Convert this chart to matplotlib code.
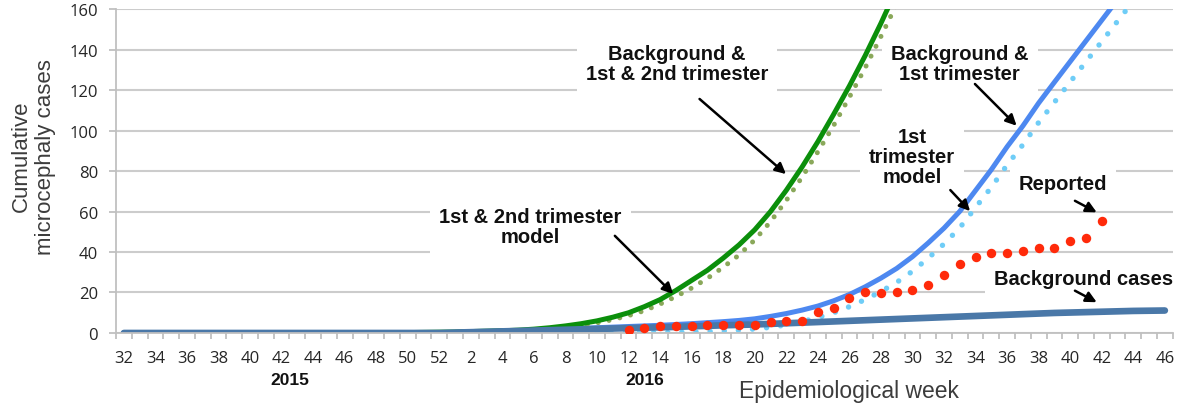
import numpy as np
import matplotlib
matplotlib.use("Agg")
import matplotlib.pyplot as plt

# epidemiological weeks: 2015 w32-52, then 2016 w1-46
weeks_2015 = [32, 33, 34, 35, 36, 37, 38, 39, 40, 41, 42, 43, 44, 45, 46, 47, 48, 49, 50, 51, 52]
weeks_2016 = list(range(1, 47))
week_labels = weeks_2015 + weeks_2016

# background cases (whole period)
background = [0, 0, 0, 0, 0, 0, 0, 0, 0, 0, 0, 0, 0, 0, 0, 0, 0, 0, 0, 0, 0,
              0.2, 0.4, 0.6, 0.8, 1.0, 1.2, 1.4, 1.6, 1.8, 2.0, 2.2, 2.4, 2.6, 2.8, 3.0,
              3.3, 3.5, 3.8, 4.0, 4.2, 4.5, 4.8, 5.1, 5.4, 5.7, 6.0, 6.3, 6.6, 6.9, 7.2,
              7.5, 7.8, 8.1, 8.4, 8.7, 9.0, 9.3, 9.6, 9.9, 10.1, 10.3, 10.5, 10.7, 10.9,
              11.0, 11.1]

# background & 1st & 2nd trimester, starts 2015 w48
green_total_start = "2015-48"
green_total = [0.05, 0.1, 0.2, 0.3, 0.4,
               0.5, 0.7, 0.9, 1.1, 1.4, 1.9, 2.6, 3.5, 4.6, 6.0, 7.8, 10.0, 13.0, 16.5,
               21, 26, 31, 37, 43.5, 51, 60, 70.5, 82, 94.5, 108, 122, 137, 153, 170]

# 1st & 2nd trimester model, starts 2016 w1
green_model_start = "2016-1"
green_model = [0.1, 0.2, 0.4, 0.6, 0.9, 1.3, 1.9, 2.7, 3.7, 5.0, 6.6, 8.6, 11, 14.3,
               18, 22.2, 27, 32.5, 38.5, 46, 55, 65.5, 77, 89.5, 102.5, 116.5, 131,
               146.5, 162.5, 179]

# background & 1st trimester, starts 2016 w1
blue_total_start = "2016-1"
blue_total = [0.3, 0.5, 0.7, 0.9, 1.1, 1.4, 1.7, 2.0, 2.3, 2.6, 2.9, 3.2, 3.5, 3.8,
              4.2, 4.6, 5.1, 5.6, 6.2, 7.0, 8.2, 9.6, 11.3, 13.3, 15.9, 19.0, 22.8,
              27.1, 31.9, 37.7, 44.5, 51.8, 60.1, 70.4, 80.7, 92.0, 102.3, 113.6,
              123.9, 134.1, 144.3, 154.5, 164.7]

# 1st trimester model, starts 2016 w10
blue_model_start = "2016-10"
blue_model = [0.0, 0.05, 0.1, 0.15, 0.2, 0.3, 0.5, 0.7, 1.0, 1.4, 2.0, 2.8, 4.0, 5.6,
              7.6, 10, 13, 16.5, 20.5, 25, 30.5, 37, 44, 52, 62, 72, 83, 93, 104,
              114, 124, 134, 144, 154, 164]

# reported cases, 2016 w12-42
reported_start = "2016-12"
reported = [1.5, 2.3, 3.6, 3.6, 3.6, 4.1, 4.1, 4.1, 4.1, 5.6, 6.1, 6.1, 10.2, 12.2,
            17.3, 20.1, 19.6, 20.4, 21.4, 23.9, 28.8, 34.0, 37.4, 39.5, 39.5, 40.3,
            41.8, 41.8, 45.6, 46.9, 55.5]


def week_pos(key):
    year, wk = key.split("-")
    wk = int(wk)
    if year == "2015":
        return weeks_2015.index(wk)
    return len(weeks_2015) + weeks_2016.index(wk)


def xs(start, vals):
    p = week_pos(start)
    return np.arange(p, p + len(vals))


plt.rcParams['font.family'] = ['Liberation Sans', 'DejaVu Sans']

fig = plt.figure(figsize=(11.81, 4.10), dpi=100)
ax = fig.add_axes([0.0982, 0.1854, 0.8948, 0.790])

ax.plot(xs(blue_model_start, blue_model), blue_model, color='#6fcdf7', lw=3.9,
        linestyle=(0, (0.01, 2.6)), dash_capstyle='round', zorder=2)
ax.plot(xs(blue_total_start, blue_total), blue_total, color='#4d88f0', lw=3.6,
        solid_capstyle='round', zorder=2.1)
ax.plot(xs(green_model_start, green_model), green_model, color='#8aa85a', lw=3.6,
        linestyle=(0, (0.01, 2.2)), dash_capstyle='round', zorder=2.2)
ax.plot(xs(green_total_start, green_total), green_total, color='#0b8f0b', lw=3.6,
        solid_capstyle='round', zorder=2.3)
ax.plot(np.arange(len(background)), background, color='#4a78a8', lw=4.8,
        solid_capstyle='round', zorder=2.5)
ax.plot(xs(reported_start, reported), reported, linestyle='none', marker='o',
        markersize=6.8, color='#ff2a0a', markeredgewidth=0, zorder=3)

ax.set_xlim(-0.5, len(week_labels) - 0.5)
ax.set_ylim(0, 160)

# axes styling, excel-like
for s in ['top', 'right']:
    ax.spines[s].set_visible(False)
for s in ['left', 'bottom']:
    ax.spines[s].set_color('#c0c0c0')
    ax.spines[s].set_linewidth(1.3)

ax.set_yticks(np.arange(0, 161, 20))
ax.yaxis.grid(True, color='#cccccc', lw=1.5)
ax.set_axisbelow(True)
ax.tick_params(axis='y', length=5, width=1.3, color='#c0c0c0', pad=8,
               labelsize=12, labelcolor='#262626')

ax.set_xticks(np.arange(0, len(week_labels), 2))
ax.set_xticklabels([str(w) for w in week_labels[::2]])
ax.set_xticks(np.arange(-0.5, len(week_labels), 1), minor=True)
ax.tick_params(axis='x', which='major', length=0, pad=12, labelsize=12,
               labelcolor='#262626')
ax.tick_params(axis='x', which='minor', length=4.5, width=1.3, color='#c0c0c0')
for lab in ax.get_xticklabels() + ax.get_yticklabels():
    lab.set_family(['Open Sans', 'DejaVu Sans'])

# year labels under the weeks
tr = ax.get_xaxis_transform()
ax.text(10.5, -0.145, '2015', transform=tr, ha='center', va='center',
        fontsize=12.5, fontweight='bold', color='#111111')
ax.text(33.0, -0.145, '2016', transform=tr, ha='center', va='center',
        fontsize=12.5, fontweight='bold', color='#111111')

fig.text(0.028, 0.618, 'Cumulative\nmicrocephaly cases', rotation=90,
         ha='center', va='center', multialignment='center', fontsize=16,
         color='#3c3c3c')
fig.text(0.7185, 0.045, 'Epidemiological week', ha='center', va='center',
         fontsize=16.5, color='#3c3c3c')

# labels with white boxes that cut the gridlines
box = dict(boxstyle='square,pad=0.45', facecolor='white', edgecolor='none')
labels = [
    ('Background &\n1st & 2nd trimester', 35.07, 133.3),
    ('Background &\n1st trimester', 53.0, 133.3),
    ('1st\ntrimester\nmodel', 49.97, 87.2),
    ('1st & 2nd trimester\nmodel', 25.78, 52.6),
    ('Reported', 59.54, 73.6),
    ('Background cases', 60.87, 26.7),
]
for txt, x, y in labels:
    ax.text(x, y, txt, ha='center', va='center', multialignment='center',
            fontsize=14.5, fontweight='bold', color='#111111', bbox=box,
            zorder=1.5, linespacing=1.05, clip_on=False)

arrows = [
    ((36.5, 115.6), (41.98, 78.5)),
    ((53.96, 123.0), (56.6, 102.4)),
    ((52.4, 70.6), (53.65, 60.2)),
    ((31.13, 48.0), (34.83, 19.3)),
    ((60.3, 65.3), (61.68, 59.6)),
    ((60.3, 20.9), (61.68, 15.2)),
]
for start, end in arrows:
    ax.annotate('', xy=end, xytext=start,
                arrowprops=dict(arrowstyle='-|>', color='black', lw=1.8,
                                mutation_scale=16, shrinkA=0, shrinkB=0),
                zorder=5)

fig.savefig('out.png', dpi=100)
